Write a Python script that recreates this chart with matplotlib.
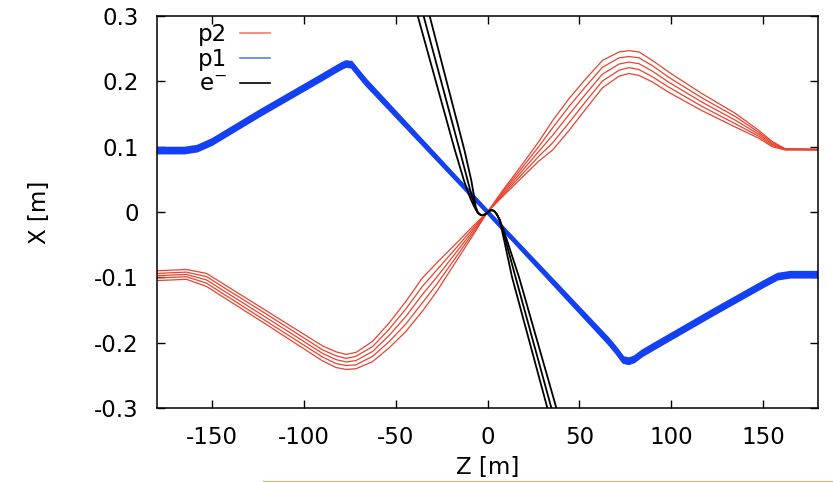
import numpy as np
import matplotlib
matplotlib.use("Agg")
from matplotlib import pyplot as plt
from matplotlib.lines import Line2D

plt.rcParams['font.family'] = ['DejaVu Sans']
plt.rcParams['axes.unicode_minus'] = False

# tick positions / labels
z_ticks = [-150, -100, -50, 0, 50, 100, 150]
z_tick_labels = ['-150', '-100', '-50', '0', '50', '100', '150']
x_ticks = [-0.3, -0.2, -0.1, 0.0, 0.1, 0.2, 0.3]
x_tick_labels = ['-0.3', '-0.2', '-0.1', '0', '0.1', '0.2', '0.3']

# p2 (red) - five trajectories, one column per track
p2_z = [-180, -164, -153, -120, -89.8, -82.5, -77, -71.7, -62.6, -53.6, -44.5,
        -35.5, -28, -17.4, -8, 0, 8, 17.4, 28, 35.5, 44.5, 53.6, 62.6, 71.7,
        77, 82.5, 89.8, 98.8, 116.9, 135, 147.7, 155, 162, 180]
p2_x = [
    [-0.105, -0.101, -0.0975, -0.094, -0.090],
    [-0.103, -0.099, -0.0955, -0.092, -0.088],
    [-0.114, -0.109, -0.104, -0.099, -0.094],
    [-0.173, -0.168, -0.1625, -0.157, -0.152],
    [-0.228, -0.222, -0.2165, -0.211, -0.205],
    [-0.238, -0.232, -0.226, -0.220, -0.214],
    [-0.241, -0.235, -0.2295, -0.224, -0.218],
    [-0.240, -0.234, -0.2275, -0.221, -0.215],
    [-0.229, -0.221, -0.2135, -0.206, -0.198],
    [-0.208, -0.1985, -0.189, -0.1795, -0.170],
    [-0.183, -0.1715, -0.160, -0.1485, -0.137],
    [-0.152, -0.139, -0.1265, -0.114, -0.101],
    [-0.123, -0.112, -0.101, -0.090, -0.079],
    [-0.077, -0.070, -0.063, -0.056, -0.049],
    [-0.036, -0.0325, -0.029, -0.0255, -0.022],
    [0.0, 0.0, 0.0, 0.0, 0.0],
    [0.032, 0.030, 0.0275, 0.025, 0.023],
    [0.067, 0.0625, 0.058, 0.0535, 0.049],
    [0.108, 0.1005, 0.093, 0.0855, 0.078],
    [0.140, 0.129, 0.1175, 0.106, 0.095],
    [0.174, 0.162, 0.1495, 0.137, 0.125],
    [0.204, 0.1925, 0.181, 0.1695, 0.158],
    [0.232, 0.2215, 0.211, 0.2005, 0.190],
    [0.245, 0.236, 0.2265, 0.217, 0.208],
    [0.247, 0.238, 0.2295, 0.221, 0.212],
    [0.245, 0.236, 0.227, 0.218, 0.209],
    [0.232, 0.224, 0.2155, 0.207, 0.199],
    [0.214, 0.206, 0.1985, 0.191, 0.183],
    [0.181, 0.1745, 0.168, 0.1615, 0.155],
    [0.151, 0.146, 0.1405, 0.135, 0.130],
    [0.125, 0.122, 0.119, 0.116, 0.113],
    [0.108, 0.106, 0.104, 0.102, 0.100],
    [0.097, 0.0965, 0.096, 0.0955, 0.095],
    [0.096, 0.096, 0.0955, 0.095, 0.095],
]

# p1 (blue) - five trajectories
p1_z = [-180, -165, -158, -150, -124, -90, -84, -80, -77, -74, -70, -66, 0,
        66, 70, 74, 77, 80, 84, 90, 124, 150, 158, 165, 180]
p1_x = [
    [0.090, 0.092, 0.094, 0.096, 0.098],
    [0.090, 0.092, 0.094, 0.096, 0.098],
    [0.093, 0.095, 0.097, 0.099, 0.101],
    [0.103, 0.105, 0.107, 0.109, 0.111],
    [0.147, 0.149, 0.151, 0.153, 0.155],
    [0.202, 0.204, 0.206, 0.208, 0.210],
    [0.212, 0.214, 0.216, 0.218, 0.220],
    [0.2185, 0.2205, 0.2225, 0.2245, 0.2265],
    [0.2225, 0.2245, 0.2265, 0.2285, 0.2305],
    [0.2215, 0.2235, 0.2255, 0.2275, 0.2295],
    [0.2075, 0.2095, 0.2115, 0.2135, 0.2155],
    [0.194, 0.196, 0.198, 0.200, 0.202],
    [-0.002, -0.001, 0.0, 0.001, 0.002],
    [-0.202, -0.200, -0.198, -0.196, -0.194],
    [-0.2155, -0.2135, -0.2115, -0.2095, -0.2075],
    [-0.2305, -0.2285, -0.2265, -0.2245, -0.2225],
    [-0.2325, -0.2305, -0.2285, -0.2265, -0.2245],
    [-0.2295, -0.2275, -0.2255, -0.2235, -0.2215],
    [-0.221, -0.219, -0.217, -0.215, -0.213],
    [-0.211, -0.209, -0.207, -0.205, -0.203],
    [-0.156, -0.154, -0.152, -0.150, -0.148],
    [-0.115, -0.113, -0.111, -0.109, -0.107],
    [-0.103, -0.101, -0.099, -0.097, -0.095],
    [-0.100, -0.098, -0.096, -0.094, -0.092],
    [-0.100, -0.098, -0.096, -0.094, -0.092],
]

# electrons (black) - three trajectories sharing the X samples
e_x = [0.3, 0.095, 0.048, 0.022, 0.008, -0.001, -0.005, -0.004, -0.001,
       0.002, 0.003, 0.001, -0.004, -0.012, -0.025, -0.045, -0.099, -0.3]
e_z = [
    [-38.0, -17.8, -12.8, -9.5, -7.2, -5.4, -3.5, -1.5, 0.0, 1.2, 2.5, 3.8,
     5.2, 6.6, 7.6, 9.2, 13.3, 32.6],
    [-34.8, -15.2, -10.8, -8.3, -6.8, -5.3, -3.5, -1.5, 0.0, 1.2, 2.5, 3.8,
     5.2, 6.6, 8.0, 10.0, 15.2, 34.8],
    [-31.5, -12.6, -8.8, -7.2, -6.4, -5.2, -3.5, -1.5, 0.0, 1.2, 2.5, 3.8,
     5.2, 6.6, 8.4, 10.8, 17.1, 37.5],
]

red = '#e8432f'
blue = '#1240f2'
black = '#000000'

fig = plt.figure(figsize=(8.33, 4.82), dpi=100)
ax = fig.add_axes([157 / 833, 1 - 408 / 482, (818 - 157) / 833, (408 - 16) / 482])

p2 = np.array(p2_x)
for k in range(p2.shape[1]):
    ax.plot(p2_z, p2[:, k], color=red, lw=0.9)

p1 = np.array(p1_x)
for k in range(p1.shape[1]):
    ax.plot(p1_z, p1[:, k], color=blue, lw=1.8)

for zz in e_z:
    ax.plot(zz, e_x, color=black, lw=1.3)

ax.set_xlim(-180, 180)
ax.set_ylim(-0.3, 0.3)
ax.set_xticks(z_ticks)
ax.set_xticklabels(z_tick_labels)
ax.set_yticks(x_ticks)
ax.set_yticklabels(x_tick_labels)
ax.tick_params(direction='in', length=6, width=1, top=True, right=True,
               labelsize=16.5, pad=13)
for s in ax.spines.values():
    s.set_linewidth(1.1)

ax.set_xlabel('Z [m]', fontsize=16.5, labelpad=5)
ax.set_ylabel('X [m]', fontsize=16.5, labelpad=31)

handles = [Line2D([], [], color='#f07a6c', lw=1.2),
           Line2D([], [], color='#5a7cf5', lw=1.2),
           Line2D([], [], color=black, lw=1.2)]
ax.legend(handles, ['p2', 'p1', 'e$^{-}$'], loc='upper left',
          bbox_to_anchor=(0.03, 1.035), frameon=False, markerfirst=False,
          fontsize=16.5, handlelength=1.3, handletextpad=0.6, labelspacing=0.08)

fig.add_artist(Line2D([263 / 833, 1.0], [1 - 480.5 / 482] * 2,
                      color='#f2a66a', lw=0.8))

fig.savefig('out.png', dpi=100)
